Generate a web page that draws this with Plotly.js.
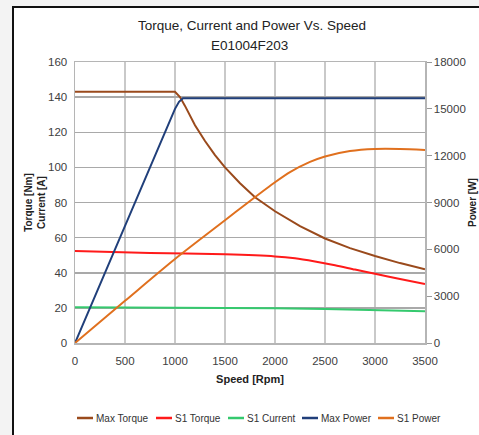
<!DOCTYPE html>
<html>
<head>
<meta charset="utf-8">
<script src="https://cdn.plot.ly/plotly-3.0.1.min.js"></script>
<style>
  html, body { margin: 0; padding: 0; width: 479px; height: 435px; overflow: hidden; background: #f3f3f3; }
  #frame { position: absolute; left: 12px; top: 6px; width: 467px; height: 429px;
           border-left: 2px solid #111; border-top: 2px solid #111; background: #fff; box-sizing: border-box; }
  #chart { position: absolute; left: 0; top: 0; width: 479px; height: 435px; }
</style>
</head>
<body>
<div id="frame"></div>
<div id="chart"></div>
<script>
// Speed [Rpm] and values
const maxTorqueSpeed = [0, 500, 1000, 1050, 1100, 1200, 1300, 1400, 1500, 1650, 1800, 2000, 2250, 2500, 2750, 3000, 3250, 3500];
const maxTorque      = [143, 143, 143, 140, 135, 124, 115, 107, 100, 91, 83, 75, 66.5, 59.5, 54, 49.5, 45.5, 42];

const s1TorqueSpeed = [0, 750, 1500, 2000, 2200, 2400, 2600, 2800, 3000, 3250, 3500];
const s1Torque      = [52.4, 51.3, 50.5, 49.3, 48.2, 46.4, 44.3, 41.8, 39.4, 36.5, 33.6];

const s1CurrentSpeed = [0, 500, 1000, 1500, 2000, 2500, 3000, 3500];
const s1Current      = [20.4, 20.3, 20.2, 20.0, 19.8, 19.4, 18.6, 18.1];

const maxPowerSpeed = [0, 250, 500, 750, 1000, 1040, 1080, 1500, 2000, 2500, 3000, 3500];
const maxPower      = [0, 3750, 7550, 11300, 15000, 15450, 15680, 15680, 15680, 15680, 15680, 15680];

const s1PowerSpeed = [0, 500, 1000, 1500, 1750, 2000, 2150, 2350, 2500, 2750, 3000, 3250, 3500];
const s1Power      = [0, 2700, 5380, 7860, 9100, 10300, 10950, 11600, 11950, 12300, 12430, 12430, 12370];

const seriesNames  = ['Max Torque', 'S1 Torque', 'S1 Current', 'Max Power', 'S1 Power'];
const leftTicks  = [0, 20, 40, 60, 80, 100, 120, 140, 160];
const rightTicks = [0, 3000, 6000, 9000, 12000, 15000, 18000];
const speedTicks = [0, 500, 1000, 1500, 2000, 2500, 3000, 3500];

const titleLine1 = 'Torque, Current and Power Vs. Speed';
const titleLine2 = 'E01004F203';

const FONT = '"Liberation Sans", Arial, sans-serif';
const colors = ['#9a4a1c', '#ff1a1a', '#35c96e', '#203f7a', '#e0701e'];

// plot-area geometry (pixels) used only to place the legend row and subtitle
const M = {l: 75, r: 54, t: 62, b: 92};
const plotW = 479 - M.l - M.r, plotH = 435 - M.t - M.b;
const px2x = p => (p - M.l) / plotW;
const py2y = p => (435 - M.b - p) / plotH;

const traces = [
  {x: maxTorqueSpeed, y: maxTorque, yaxis: 'y'},
  {x: s1TorqueSpeed, y: s1Torque, yaxis: 'y', spline: true},
  {x: s1CurrentSpeed, y: s1Current, yaxis: 'y'},
  {x: maxPowerSpeed, y: maxPower, yaxis: 'y2'},
  {x: s1PowerSpeed, y: s1Power, yaxis: 'y2', spline: true}
].map((t, i) => ({
  type: 'scatter', mode: 'lines', hoverinfo: 'skip', name: seriesNames[i],
  x: t.x, y: t.y, yaxis: t.yaxis,
  line: Object.assign({color: colors[i], width: 2}, t.spline ? {shape: 'spline', smoothing: 0.8} : {})
}));

// legend row (one line, like the reference): short line sample + label
const legendStarts = [77, 156, 228, 302, 378];
const legendY = py2y(418);
const legendShapes = legendStarts.map((p, i) => ({
  type: 'line', xref: 'paper', yref: 'paper',
  x0: px2x(p), x1: px2x(p + 16), y0: legendY, y1: legendY,
  line: {color: colors[i], width: 2.5}
}));
const legendLabels = legendStarts.map((p, i) => ({
  text: seriesNames[i], showarrow: false, xref: 'paper', yref: 'paper',
  x: px2x(p + 17), y: legendY, xanchor: 'left', yanchor: 'middle',
  font: {family: FONT, size: 10, color: '#333'}
}));

const layout = {
  width: 479, height: 435,
  paper_bgcolor: 'rgba(0,0,0,0)',
  plot_bgcolor: '#ffffff',
  margin: M,
  font: {family: FONT, color: '#333', size: 11.5},
  title: {
    text: titleLine1,
    font: {family: FONT, size: 13.5, color: '#222'},
    x: 0.526, xanchor: 'center', xref: 'container',
    y: 1 - 25 / 435, yanchor: 'middle', yref: 'container'
  },
  annotations: [{
    text: titleLine2, showarrow: false,
    xref: 'paper', yref: 'paper', x: px2x(249), y: py2y(45),
    xanchor: 'center', yanchor: 'middle',
    font: {family: FONT, size: 13.5, color: '#222'}
  }].concat(legendLabels),
  shapes: legendShapes,
  xaxis: {
    range: [0, 3500], tickvals: speedTicks, ticktext: speedTicks.map(String), tickangle: 0,
    showgrid: true, gridcolor: '#c9c9c9', gridwidth: 1.5,
    zeroline: false, showline: true, linecolor: '#b5b5b5', linewidth: 1.5, mirror: true,
    ticks: '', ticklabelstandoff: 7, tickfont: {size: 11.5, color: '#404040', family: FONT},
    title: {text: '<b>Speed [Rpm]</b>', font: {size: 11, color: '#222', family: FONT}, standoff: 9}
  },
  yaxis: {
    range: [0, 160], tickvals: leftTicks, ticktext: leftTicks.map(String),
    showgrid: true, gridcolor: '#a9a9a9', gridwidth: 1.5,
    zeroline: false, showline: true, linecolor: '#b5b5b5', linewidth: 1.5,
    ticks: '', ticklabelstandoff: 4, tickfont: {size: 11.5, color: '#404040', family: FONT},
    title: {text: '<b>Torque [Nm]<br>Current [A]</b>', font: {size: 10, color: '#222', family: FONT}, standoff: 0}
  },
  yaxis2: {
    overlaying: 'y', side: 'right',
    range: [0, 18000], tickvals: rightTicks, ticktext: rightTicks.map(String),
    showgrid: false, zeroline: false, showline: true, linecolor: '#b5b5b5', linewidth: 1.5,
    ticks: 'outside', ticklen: 5, tickcolor: '#999', tickwidth: 1,
    tickfont: {size: 11.5, color: '#404040', family: FONT},
    title: {text: '<b>Power [W]</b>', font: {size: 10, color: '#222', family: FONT}, standoff: 4}
  },
  showlegend: false
};

Plotly.newPlot('chart', traces, layout, {displayModeBar: false, staticPlot: true});
</script>
</body>
</html>
